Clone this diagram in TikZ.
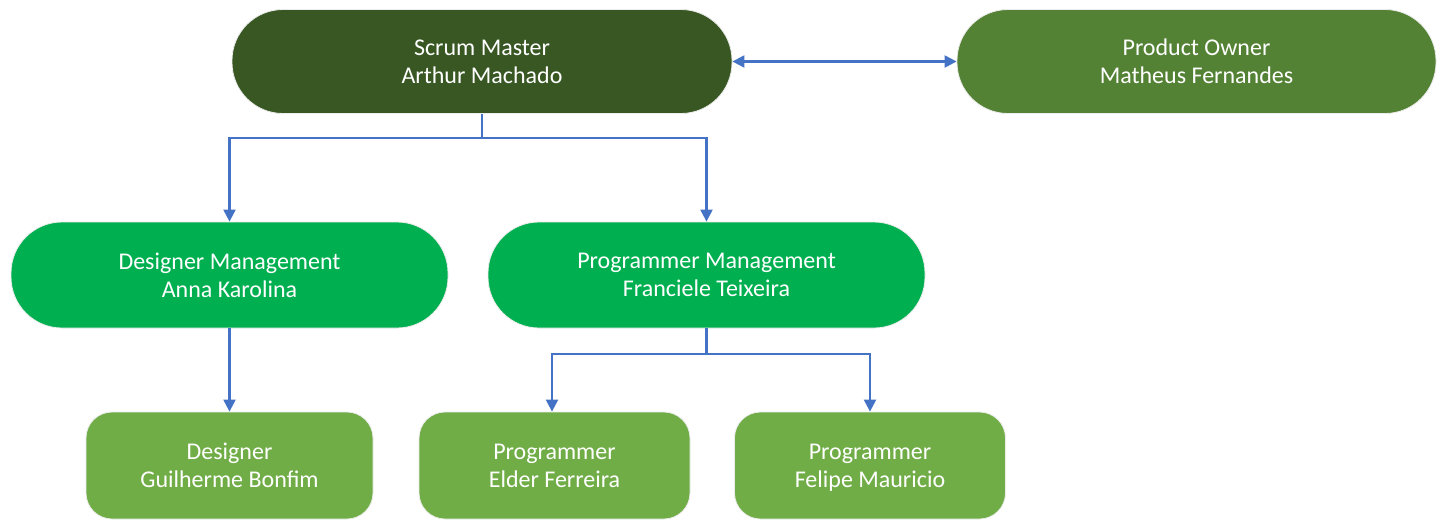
\documentclass[tikz,border=0pt]{standalone}
\usepackage{fontspec}
\setmainfont{Carlito}
\usetikzlibrary{arrows.meta}
\definecolor{smgreen}{HTML}{385723}
\definecolor{pogreen}{HTML}{548235}
\definecolor{mggreen}{HTML}{00B050}
\definecolor{lfgreen}{HTML}{70AD47}
\definecolor{linkblue}{HTML}{4472C4}
\tikzset{
  box/.style={draw=white!85!gray, line width=0.8pt, text=white, align=center,
    font=\fontsize{24pt}{28pt}\selectfont, inner sep=0pt},
  pill/.style={box, rounded corners=51pt, minimum height=104pt},
  leaf/.style={box, fill=lfgreen, rounded corners=26pt, minimum height=107pt},
  link/.style={draw=linkblue, line width=2.2pt},
  tip/.style={-{Triangle[length=12pt,width=12pt]}},
}
\begin{document}
\begin{tikzpicture}[x=1pt,y=-1pt]
\useasboundingbox (0,0) rectangle (1446,531);
\node[pill, fill=smgreen, minimum width=500pt] (sm) at (482,61.5) {Scrum Master\\Arthur Machado};
\node[pill, fill=pogreen, minimum width=479pt] (po) at (1196.5,61.5) {Product Owner\\Matheus Fernandes};
\node[pill, fill=mggreen, minimum width=437pt, minimum height=106pt] (dm) at (229.5,275) {Designer Management\\Anna Karolina};
\node[pill, fill=mggreen, minimum width=437pt, minimum height=106pt] (pm) at (706.5,275) {Programmer Management\\Franciele Teixeira};
\node[leaf, minimum width=287pt] (ds) at (229.5,465.5) {Designer\\Guilherme Bonfim};
\node[leaf, minimum width=271pt] (p1) at (554.5,465.5) {Programmer\\Elder Ferreira};
\node[leaf, minimum width=271pt] (p2) at (870,465.5) {Programmer\\\smash{Felipe Mauricio}};
\coordinate (smj) at (482,138);
\coordinate (pmj) at (706.5,354);
\draw[link, {Triangle[length=12pt,width=12pt]}-{Triangle[length=12pt,width=12pt]}] (sm.east) -- (po.west);
\draw[link, tip] (sm.south) -- (smj) -| (dm.north);
\draw[link, tip] (smj) -| (pm.north);
\draw[link, tip] (dm.south) -- (ds.north);
\draw[link, tip] (pm.south) -- (pmj) -| ([xshift=-2.5pt]p1.north);
\draw[link, tip] (pmj) -| (p2.north);
\end{tikzpicture}
\end{document}
